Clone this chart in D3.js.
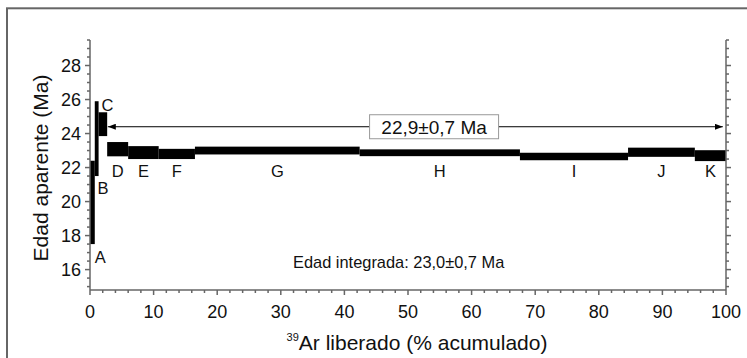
<!DOCTYPE html>
<html>
<head>
<meta charset="utf-8">
<script src="https://cdn.jsdelivr.net/npm/d3@7"></script>
<style>
  html, body { margin: 0; padding: 0; background: #fff; }
  svg { display: block; }
  text { font-family: "Liberation Sans", Arial, sans-serif; fill: #111; }
</style>
</head>
<body>
<svg id="chart" width="747" height="358"></svg>
<script>
// ---- data ----
const stepLabels = ["A", "B", "C", "D", "E", "F", "G", "H", "I", "J", "K"];
const cumulative39Ar = [0.75, 1.35, 2.7, 6.0, 10.8, 16.5, 42.4, 67.6, 84.6, 95.1, 100];
const apparentAge = [19.95, 23.7, 24.55, 23.08, 22.88, 22.8, 23.0, 22.87, 22.65, 22.9, 22.7];
const ageError = [2.45, 2.2, 0.7, 0.42, 0.38, 0.3, 0.23, 0.2, 0.22, 0.27, 0.32];
const plateauRange = [2.8, 99.5];
const plateauText = "22,9±0,7 Ma";
const integratedText = "Edad integrada: 23,0±0,7 Ma";
const xTickValues = [0, 10, 20, 30, 40, 50, 60, 70, 80, 90, 100];
const yTickValues = [16, 18, 20, 22, 24, 26, 28];

// ---- layout ----
const svg = d3.select("#chart");
const x = d3.scaleLinear().domain([0, 100]).range([90, 726]);
const y = d3.scaleLinear().domain([14.8, 29.5]).range([290, 40]);
const axisColor = "#666";

// outer frame
svg.append("rect").attr("x", 7).attr("y", 8.3).attr("width", 760).attr("height", 380)
  .attr("fill", "none").attr("stroke", "#666").attr("stroke-width", 2);

// steps
const steps = stepLabels.map((l, i) => ({
  label: l,
  x0: i === 0 ? 0 : cumulative39Ar[i - 1],
  x1: cumulative39Ar[i],
  lo: apparentAge[i] - ageError[i],
  hi: apparentAge[i] + ageError[i]
}));

svg.append("g").selectAll("rect").data(steps).join("rect")
  .attr("x", d => x(d.x0))
  .attr("width", d => x(d.x1) - x(d.x0))
  .attr("y", d => y(d.hi))
  .attr("height", d => y(d.lo) - y(d.hi))
  .attr("fill", "#000");

// axes
function axisLine(x1, y1, x2, y2) {
  svg.append("line").attr("x1", x1).attr("y1", y1).attr("x2", x2).attr("y2", y2)
    .attr("stroke", axisColor).attr("stroke-width", 1.5);
}
const yMinor = d3.range(15, 29.51, 0.5);
const xMinor = d3.range(0, 100.1, 2);
// left axis
axisLine(x(0), y(29.5), x(0), y(14.8));
yMinor.forEach(v => {
  const major = Math.abs(v % 2) < 1e-9;
  axisLine(x(0) - (major ? 5 : 3), y(v), x(0), y(v));
});
// right axis
axisLine(x(100), y(29.5), x(100), y(14.8));
yMinor.forEach(v => {
  const major = Math.abs(v % 2) < 1e-9;
  axisLine(x(100), y(v), x(100) + (major ? 5 : 3), y(v));
});
// bottom axis
axisLine(x(0), y(14.8), x(100), y(14.8));
xMinor.forEach(v => {
  const major = Math.abs(v % 10) < 1e-9;
  axisLine(x(v), y(14.8), x(v), y(14.8) + (major ? 5 : 3));
});

// tick labels
svg.append("g").selectAll("text").data(yTickValues).join("text")
  .attr("x", x(0) - 9).attr("y", d => y(d)).attr("dy", "0.36em")
  .attr("text-anchor", "end").attr("font-size", 18).text(d => d);
svg.append("g").selectAll("text").data(xTickValues).join("text")
  .attr("x", d => x(d)).attr("y", 318)
  .attr("text-anchor", "middle").attr("font-size", 18).text(d => d);

// axis titles
svg.append("text").attr("transform", "translate(48,168) rotate(-90)")
  .attr("text-anchor", "middle").attr("font-size", 21).text("Edad aparente (Ma)");
const xt = svg.append("text").attr("x", 417).attr("y", 350)
  .attr("text-anchor", "middle").attr("font-size", 21);
xt.append("tspan").attr("font-size", 11).attr("dy", -9).text("39");
xt.append("tspan").attr("dy", 9).text("Ar liberado (% acumulado)");

// step labels
const labelOffsets = {
  A: d => [x(d.x1), y(d.lo) + 18.6, "start"],
  B: d => [x(d.x1) - 1, y(d.lo) + 17.7, "start"],
  C: d => [x(d.x0) + 3, y(steps[1].hi) + 9.5, "start"]
};
svg.append("g").selectAll("text").data(steps).join("text")
  .each(function (d) {
    let px, py, anchor;
    if (labelOffsets[d.label]) {
      [px, py, anchor] = labelOffsets[d.label](d);
    } else {
      px = x((d.x0 + d.x1) / 2); py = y(21.45); anchor = "middle";
    }
    d3.select(this).attr("x", px).attr("y", py).attr("text-anchor", anchor);
  })
  .attr("font-size", 16.5).text(d => d.label);

// plateau arrow
const defs = svg.append("defs");
defs.append("marker").attr("id", "ah").attr("viewBox", "0 0 8 6")
  .attr("refX", 8).attr("refY", 3).attr("markerWidth", 8).attr("markerHeight", 6)
  .attr("markerUnits", "userSpaceOnUse").attr("orient", "auto-start-reverse")
  .append("path").attr("d", "M0,0 L8,3 L0,6 Z").attr("fill", "#000");
const arrowY = y(24.4);
svg.append("line").attr("x1", x(plateauRange[0])).attr("x2", x(plateauRange[1]))
  .attr("y1", arrowY).attr("y2", arrowY).attr("stroke", "#000").attr("stroke-width", 1)
  .attr("marker-start", "url(#ah)").attr("marker-end", "url(#ah)");
const boxCx = x(54.1);
svg.append("rect").attr("x", boxCx - 64.5).attr("y", arrowY - 12).attr("width", 129).attr("height", 24)
  .attr("fill", "#fff").attr("stroke", "#999").attr("stroke-width", 1);
svg.append("text").attr("x", boxCx).attr("y", arrowY + 7.5).attr("text-anchor", "middle")
  .attr("font-size", 19).text(plateauText);

// integrated age
svg.append("text").attr("x", 293).attr("y", 267.5).attr("font-size", 16.4).text(integratedText);
</script>
</body>
</html>
